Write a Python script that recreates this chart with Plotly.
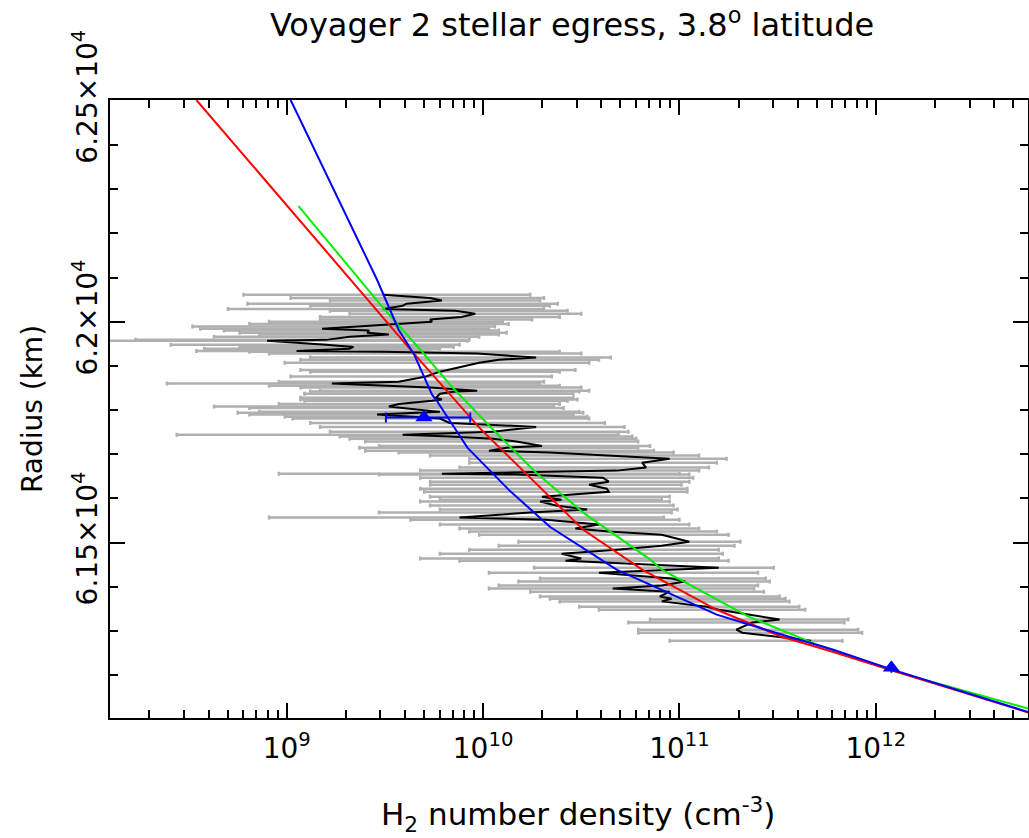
import numpy as np
import plotly.graph_objects as go

# ---- observed profile (black line + grey error bars) ----
radius_km = [62061, 62054, 62048, 62041, 62036, 62029, 62025, 62018, 62011, 62005,
             62000, 61995, 61989, 61984, 61980, 61975, 61971, 61966, 61959, 61957,
             61948, 61943, 61939, 61934, 61932, 61928, 61919, 61914, 61907, 61891,
             61887, 61876, 61864, 61860, 61855, 61851, 61844, 61842, 61837, 61828,
             61824, 61821, 61814, 61808, 61805, 61796, 61794, 61790, 61785, 61781,
             61771, 61762, 61751, 61744, 61740, 61735, 61729, 61719, 61715, 61708,
             61704, 61697, 61690, 61681, 61670, 61663, 61656, 61654, 61647, 61638,
             61631, 61622, 61615, 61604, 61597, 61593, 61584, 61575, 61568, 61557,
             61552, 61541, 61532, 61525, 61518, 61502, 61493, 61484, 61475, 61464,
             61459, 61443, 61432, 61419, 61412, 61403, 61396, 61389, 61378, 61373,
             61367, 61355, 61348, 61326, 61319, 61303, 61296, 61278]
log_n_center = [9.49, 9.73, 9.79, 9.61, 9.59, 9.49, 9.86, 9.96, 9.89, 9.73,
                9.74, 9.56, 9.32, 9.18, 9.42, 9.41, 9.52, 9.32, 9.20, 8.90,
                9.20, 9.34, 9.32, 9.05, 9.49, 9.97, 10.27, 10.08, 9.98, 9.81,
                9.78, 9.71, 9.57, 9.23, 9.49, 9.73, 9.97, 9.86, 9.78, 9.76,
                9.79, 9.74, 9.57, 9.52, 9.59, 9.78, 9.66, 9.46, 9.64, 9.78,
                9.83, 10.27, 10.05, 9.59, 9.83, 10.05, 10.17, 10.30, 10.12, 10.03,
                10.34, 10.68, 10.95, 10.81, 10.83, 10.68, 9.79, 10.17, 10.61, 10.64,
                10.54, 10.63, 10.64, 10.30, 10.40, 10.29, 10.37, 10.53, 10.24, 9.88,
                10.32, 10.59, 10.47, 10.64, 10.91, 11.05, 10.91, 10.68, 10.40, 10.50,
                10.42, 11.20, 10.59, 10.96, 11.03, 10.91, 10.66, 10.95, 10.90, 10.96,
                10.91, 11.14, 11.20, 11.51, 11.37, 11.29, 11.32, 11.67]
log_n_upper = [10.24, 10.31, 10.29, 10.38, 10.34, 10.31, 10.43, 10.50, 10.39, 10.25,
               10.10, 10.13, 10.06, 10.03, 10.08, 10.12, 10.08, 9.98, 9.93, 9.92,
               9.88, 9.85, 9.78, 9.73, 10.39, 10.50, 10.65, 10.59, 10.54, 10.47,
               10.39, 10.35, 10.31, 10.29, 10.39, 10.50, 10.54, 10.49, 10.46, 10.46,
               10.48, 10.43, 10.39, 10.36, 10.41, 10.49, 10.51, 10.46, 10.53, 10.54,
               10.62, 10.72, 10.74, 10.69, 10.76, 10.78, 10.79, 10.85, 10.79, 10.87,
               10.97, 11.10, 11.24, 11.19, 11.15, 11.10, 11.00, 11.05, 11.07, 11.05,
               11.01, 11.04, 11.04, 10.95, 10.91, 10.95, 10.97, 10.99, 10.96, 10.92,
               11.00, 11.05, 11.10, 11.19, 11.25, 11.31, 11.28, 11.20, 11.22, 11.20,
               11.25, 11.48, 11.40, 11.44, 11.46, 11.40, 11.38, 11.43, 11.51, 11.54,
               11.56, 11.61, 11.64, 11.86, 11.84, 11.91, 11.93, 11.83]
log_n_lower = [8.78, 9.02, 9.22, 8.80, 9.12, 8.70, 9.22, 9.32, 9.17, 9.17,
               8.91, 8.81, 8.52, 8.56, 8.68, 8.76, 8.86, 8.63, 8.23, 8.00,
               8.41, 8.76, 8.58, 8.54, 8.81, 8.91, 9.12, 9.07, 8.99, 9.07,
               9.12, 9.02, 8.96, 8.39, 8.91, 9.07, 9.17, 9.12, 9.09, 9.07,
               9.07, 9.09, 8.96, 8.63, 8.81, 8.86, 8.75, 8.81, 8.99, 9.03,
               9.12, 9.17, 9.22, 8.44, 9.27, 9.32, 9.40, 9.47, 9.37, 9.40,
               9.57, 9.73, 9.93, 9.93, 9.88, 9.68, 8.96, 9.47, 9.68, 9.73,
               9.73, 9.68, 9.70, 9.73, 9.78, 9.68, 9.73, 9.78, 9.47, 8.91,
               9.63, 9.78, 9.88, 9.93, 9.98, 10.18, 10.08, 9.93, 9.78, 9.68,
               9.88, 10.26, 10.03, 10.29, 10.18, 10.08, 10.03, 10.24, 10.29, 10.34,
               10.39, 10.49, 10.59, 10.85, 10.74, 10.79, 10.79, 10.95]

# ---- model profiles ----
red_log_n = [8.54, 9.36, 9.64, 9.99, 10.24, 10.51, 10.81, 11.19, 11.52, 11.78, 12.10, 12.78]
red_radius = [62502, 62079, 61932, 61756, 61647, 61529, 61439, 61348, 61287, 61253, 61208, 61115]

blue_log_n = [9.02, 9.46, 9.57, 9.65, 9.74, 9.76, 9.86, 9.92, 10.13, 10.34, 10.68, 10.85,
              11.19, 11.52, 11.78, 12.08, 12.78]
blue_radius = [62502, 62095, 61982, 61925, 61835, 61824, 61756, 61715, 61620, 61536, 61439,
               61405, 61337, 61292, 61258, 61213, 61116]

green_log_n = [9.06, 9.37, 9.49, 9.68, 9.84, 10.05, 10.27, 10.51, 10.85, 10.91, 11.35,
               11.70, 12.10, 12.78]
green_radius = [62262, 62095, 62032, 61937, 61853, 61756, 61658, 61568, 61462, 61439,
                61333, 61269, 61208, 61124]

# ---- blue triangle points ----
tri_density = [5.0e9, 1.2e12]
tri_radius = [61783, 61217]
tri_err_plus = [3.6e9, 0.0]
tri_err_minus = [1.8e9, 0.0]

# ---- axis ticks ----
x_tick_vals = [1e9, 1e10, 1e11, 1e12]
x_tick_text = ["10<sup>9</sup>", "10<sup>10</sup>", "10<sup>11</sup>", "10<sup>12</sup>"]
y_tick_vals = [61500, 62000, 62500]
y_tick_text = ["6.15×10<sup>4</sup>", "6.2×10<sup>4</sup>", "6.25×10<sup>4</sup>"]

n_c = 10 ** np.array(log_n_center)
n_hi = 10 ** np.array(log_n_upper)
n_lo = 10 ** np.array(log_n_lower)

FONT = "DejaVu Sans"
fig = go.Figure()

fig.add_trace(go.Scatter(
    x=n_c, y=radius_km, mode="markers",
    marker=dict(size=1, color="rgba(0,0,0,0)"),
    error_x=dict(type="data", symmetric=False, array=n_hi - n_c, arrayminus=n_c - n_lo,
                 color="#b0b0b0", thickness=2.5, width=2),
    showlegend=False, hoverinfo="skip"))

fig.add_trace(go.Scatter(x=n_c, y=radius_km, mode="lines",
                         line=dict(color="black", width=2), showlegend=False))

fig.add_trace(go.Scatter(x=10 ** np.array(green_log_n), y=green_radius, mode="lines",
                         line=dict(color="#00ee00", width=2), showlegend=False))
fig.add_trace(go.Scatter(x=10 ** np.array(red_log_n), y=red_radius, mode="lines",
                         line=dict(color="#ff0000", width=2), showlegend=False))
fig.add_trace(go.Scatter(x=10 ** np.array(blue_log_n), y=blue_radius, mode="lines",
                         line=dict(color="#0000ff", width=2), showlegend=False))

fig.add_trace(go.Scatter(
    x=tri_density, y=tri_radius, mode="markers",
    marker=dict(symbol="triangle-up", size=15, color="#0000ff"),
    error_x=dict(type="data", symmetric=False, array=tri_err_plus, arrayminus=tri_err_minus,
                 color="#0000ff", thickness=2, width=5),
    showlegend=False))

x_minor = []
for dec in [8, 9, 10, 11, 12]:
    for m in range(2, 10):
        x_minor.append(m * 10 ** dec)
y_minor = [v for v in range(61200, 62500, 100) if v not in (61500, 62000)]

tick_font = dict(family=FONT, size=28, color="black")
fig.update_layout(
    width=1029, height=838,
    margin=dict(l=110, r=1, t=100, b=120),
    paper_bgcolor="white", plot_bgcolor="white",
    title=dict(text="Voyager 2 stellar egress, 3.8<sup>o</sup> latitude",
               x=0.556, xanchor="center", y=0.970, yanchor="middle",
               font=dict(family=FONT, size=32, color="black")),
    xaxis=dict(type="log", range=[8.10, 12.775], automargin=False,
               tickmode="array", tickvals=x_tick_vals, ticktext=x_tick_text,
               ticks="inside", ticklen=15, tickwidth=1.5, tickcolor="black",
               ticklabelstandoff=4,
               minor=dict(tickmode="array", tickvals=x_minor, ticks="inside",
                          ticklen=8, tickwidth=1.5, tickcolor="black", showgrid=False),
               showline=True, linecolor="black", linewidth=2, mirror="allticks",
               showgrid=False, zeroline=False, tickfont=tick_font),
    yaxis=dict(range=[61103, 62502], automargin=False,
               tickmode="array", tickvals=y_tick_vals, ticktext=y_tick_text,
               ticks="inside", ticklen=15, tickwidth=1.5, tickcolor="black",
               minor=dict(tickmode="array", tickvals=y_minor, ticks="inside",
                          ticklen=8, tickwidth=1.5, tickcolor="black", showgrid=False),
               showline=True, linecolor="black", linewidth=2, mirror="allticks",
               showgrid=False, zeroline=False, tickfont=tick_font, tickangle=-90,
               title=dict(text="Radius (km)", font=dict(family=FONT, size=28, color="black"),
                          standoff=16)),
    annotations=[dict(text="H<sub>2</sub> number density (cm<sup>-3</sup>)",
                      xref="paper", yref="paper", x=0.51, y=-0.156,
                      xanchor="center", yanchor="middle", showarrow=False,
                      font=dict(family=FONT, size=31, color="black"))],
)

fig.write_html("out.html")
